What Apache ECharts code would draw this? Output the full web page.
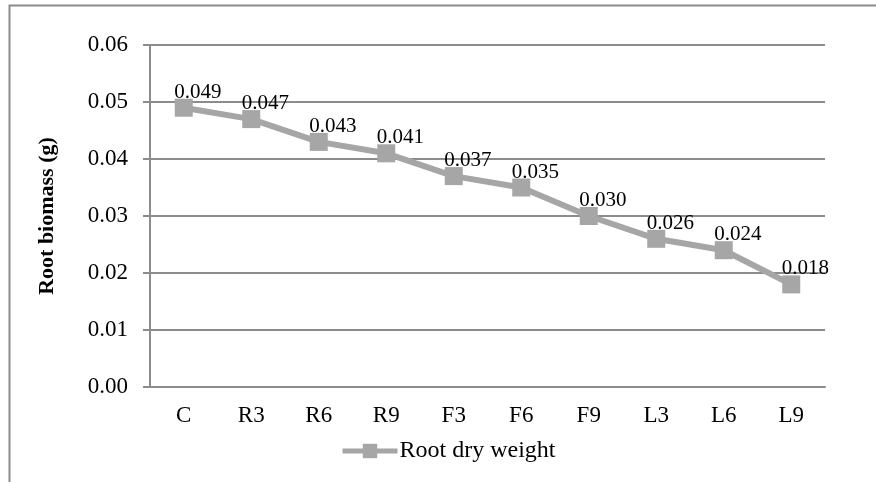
<!DOCTYPE html>
<html>
<head>
<meta charset="utf-8">
<script src="https://cdn.jsdelivr.net/npm/echarts@6/dist/echarts.min.js"></script>
<style>
html,body{margin:0;padding:0;background:#fff;}
#chart{width:876px;height:482px;}
</style>
</head>
<body>
<div id="chart"></div>
<script>
const categories = ['C','R3','R6','R9','F3','F6','F9','L3','L6','L9'];
const rootDryWeight = [0.049,0.047,0.043,0.041,0.037,0.035,0.030,0.026,0.024,0.018];
const seriesName = 'Root dry weight';
const yAxisTitle = 'Root biomass (g)';

const FONT = '"Liberation Serif", "Times New Roman", serif';
const chart = echarts.init(document.getElementById('chart'), null, {renderer:'canvas'});
chart.setOption({
  animation:false,
  backgroundColor:'#fff',
  graphic:[{
    type:'rect', silent:true, z:-1,
    shape:{x:9.5,y:5.5,width:1000,height:1000},
    style:{fill:'none',stroke:'#8c8c8c',lineWidth:2}
  }],
  grid:{left:150,right:51,top:45,bottom:95,containLabel:false},
  legend:{
    left:335, top:434,
    itemWidth:55, itemHeight:18, itemGap:10,
    lineStyle:{width:5,color:'#a6a6a6'},
    itemStyle:{color:'#a6a6a6'},
    textStyle:{fontFamily:FONT,fontSize:24,color:'#000',padding:[0,0,0,-3]},
    data:[seriesName]
  },
  xAxis:{
    type:'category', data:categories, boundaryGap:true,
    axisLine:{lineStyle:{color:'#8c8c8c',width:2}},
    axisTick:{show:false},
    axisLabel:{fontFamily:FONT,fontSize:23,color:'#000',margin:17}
  },
  yAxis:{
    type:'value', min:0, max:0.06, interval:0.01,
    name:yAxisTitle, nameLocation:'middle', nameGap:92, nameRotate:90,
    nameTextStyle:{fontFamily:FONT,fontSize:22,fontWeight:'bold',color:'#000'},
    axisLine:{show:true,lineStyle:{color:'#8c8c8c',width:2}},
    axisTick:{show:true,length:7,inside:false,lineStyle:{color:'#8c8c8c',width:2}},
    splitLine:{lineStyle:{color:'#8c8c8c',width:2}},
    axisLabel:{fontFamily:FONT,fontSize:23,color:'#000',margin:22,
      formatter:v=>v.toFixed(2)}
  },
  series:[{
    name:seriesName, type:'line', data:rootDryWeight,
    symbol:'rect', symbolSize:18,
    lineStyle:{color:'#a6a6a6',width:6},
    itemStyle:{color:'#a6a6a6'},
    label:{show:true,position:'top',distance:2,offset:[14,6],
      fontFamily:FONT,fontSize:21,color:'#000',
      formatter:p=>p.value.toFixed(3)}
  }]
});
</script>
</body>
</html>
